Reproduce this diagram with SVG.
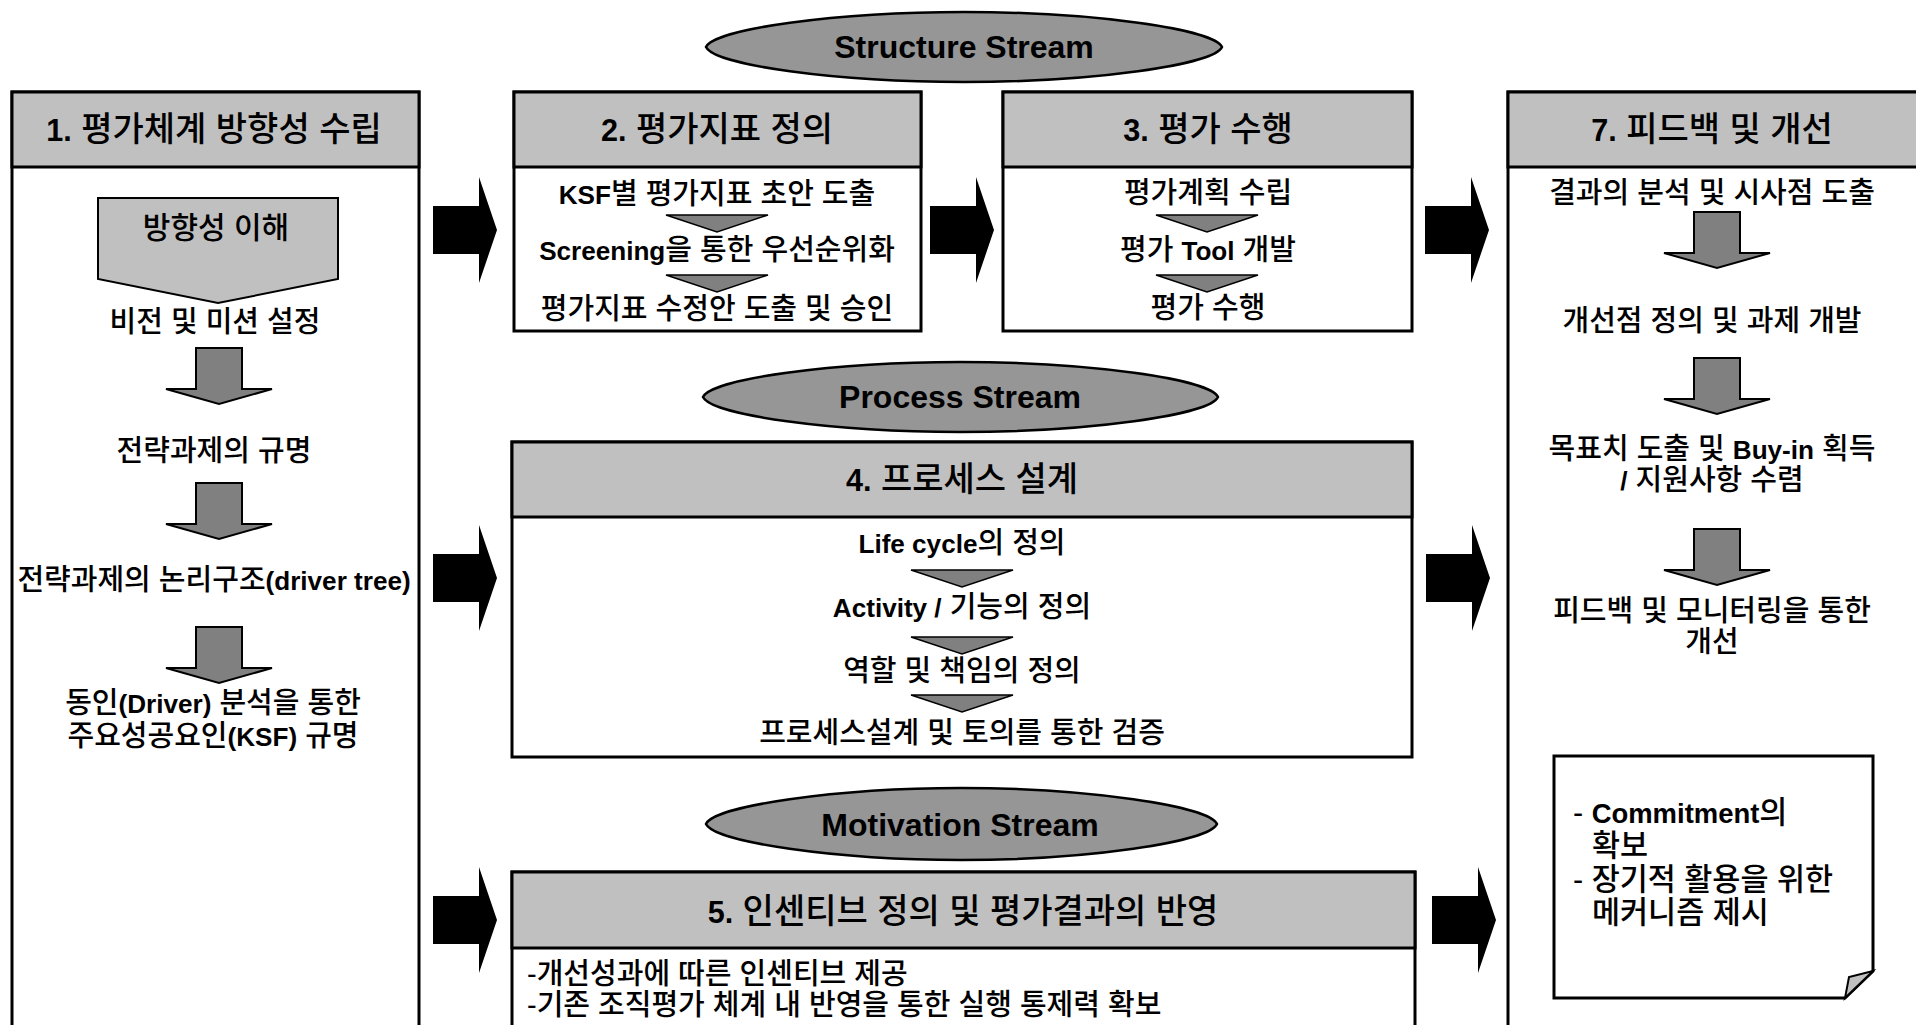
<svg xmlns="http://www.w3.org/2000/svg" width="1916" height="1025" viewBox="0 0 1916 1025">
<style>
text { font-family: 'Liberation Sans', 'Noto Sans CJK KR', sans-serif; fill: #000; font-weight: 500; }
.h { font-size: 34px; text-anchor: middle; }
.t { font-size: 29px; text-anchor: middle; }
.l { font-size: 29px; }
.n { font-size: 30.5px; }
.s { font-size: 32px; font-weight: bold; text-anchor: middle; }
.b { font-weight: bold; font-size: 0.9em; }
.box { fill: #fff; stroke: #000; stroke-width: 3; }
.hdr { fill: #c0c0c0; stroke: #000; stroke-width: 3; }
.ell { fill: #969696; stroke: #000; stroke-width: 2.5; }
.big { fill: #000; }
.dn { fill: #808080; stroke: #000; stroke-width: 2; }
.tri { fill: #808080; stroke: #000; stroke-width: 1.5; }
</style>
<defs>
<path id="bigArrow" class="big" d="M0,-24 H46 V-53 L64,0 L46,53 V24 H0 Z"/>
<path id="dnArrow" class="dn" d="M-23,0 H23 V41 H53 L0,56 L-53,41 H-23 Z"/>
<path id="tri" class="tri" d="M-51,0 H51 L0,17 Z"/>
</defs>

<g id="stream-structure">
<path class="ell" d="M706,47 C714,29 836,12 964,12 C1092,12 1214,29 1222,47 C1214,65 1092,82 964,82 C836,82 714,65 706,47 Z"/>
<text class="s" x="964" y="58">Structure Stream</text>
</g>
<g id="stream-process">
<path class="ell" d="M703,397 C711,379 833,362 960,362 C1088,362 1210,379 1218,397 C1210,415 1088,432 960,432 C833,432 711,415 703,397 Z"/>
<text class="s" x="960" y="408">Process Stream</text>
</g>
<g id="stream-motivation">
<path class="ell" d="M706,824 C714,806 836,788 961,788 C1087,788 1209,806 1217,824 C1209,842 1087,860 961,860 C836,860 714,842 706,824 Z"/>
<text class="s" x="960" y="836">Motivation Stream</text>
</g>

<g id="box1">
<rect class="box" x="12" y="92" width="407" height="960"/>
<rect class="hdr" x="12" y="92" width="407" height="75"/>
<text class="h" x="214" y="141"><tspan class="b">1.</tspan> 평가체계 방향성 수립</text>
<path class="hdr" style="stroke-width:2" d="M98,198 H338 V279 L218,303 L98,279 Z"/>
<text class="t" x="216" y="238" style="font-size:30px">방향성 이해</text>
<text class="t" x="215" y="332">비전 및 미션 설정</text>
<text class="t" x="214" y="461">전략과제의 규명</text>
<text class="t" x="214" y="590">전략과제의 논리구조<tspan class="b">(driver tree)</tspan></text>
<text class="t" x="213" y="713">동인<tspan class="b">(Driver)</tspan> 분석을 통한</text>
<text class="t" x="213" y="746">주요성공요인<tspan class="b">(KSF)</tspan> 규명</text>
</g>

<g id="box2">
<rect class="box" x="514" y="92" width="407" height="239"/>
<rect class="hdr" x="514" y="92" width="407" height="75"/>
<text class="h" x="717" y="141"><tspan class="b">2.</tspan> 평가지표 정의</text>
<text class="t" x="717" y="204"><tspan class="b">KSF</tspan>별 평가지표 초안 도출</text>
<text class="t" x="717" y="260"><tspan class="b">Screening</tspan>을 통한 우선순위화</text>
<text class="t" x="717" y="319">평가지표 수정안 도출 및 승인</text>
</g>

<g id="box3">
<rect class="box" x="1003" y="92" width="409" height="239"/>
<rect class="hdr" x="1003" y="92" width="409" height="75"/>
<text class="h" x="1208" y="141"><tspan class="b">3.</tspan> 평가 수행</text>
<text class="t" x="1208" y="203">평가계획 수립</text>
<text class="t" x="1208" y="260">평가 <tspan class="b">Tool</tspan> 개발</text>
<text class="t" x="1208" y="318">평가 수행</text>
</g>

<g id="box7">
<rect class="box" x="1508" y="92" width="430" height="960"/>
<rect class="hdr" x="1508" y="92" width="430" height="75"/>
<text class="h" x="1712" y="141"><tspan class="b">7.</tspan> 피드백 및 개선</text>
<text class="t" x="1712" y="203">결과의 분석 및 시사점 도출</text>
<text class="t" x="1712" y="331">개선점 정의 및 과제 개발</text>
<text class="t" x="1712" y="459">목표치 도출 및 <tspan class="b">Buy-in</tspan> 획득</text>
<text class="t" x="1712" y="490"><tspan class="b">/</tspan> 지원사항 수렴</text>
<text class="t" x="1712" y="621">피드백 및 모니터링을 통한</text>
<text class="t" x="1712" y="652">개선</text>
</g>

<g id="note">
<path class="box" d="M1554,756 H1873 V971 L1845,998 H1554 Z"/>
<path d="M1873,971 L1849,977 L1845,998 Z" fill="#c0c0c0" stroke="#000" stroke-width="2"/>
<text class="n" x="1573" y="823">- <tspan class="b">Commitment</tspan>의</text>
<text class="n" x="1592" y="856">확보</text>
<text class="n" x="1573" y="890">- 장기적 활용을 위한</text>
<text class="n" x="1592" y="923">메커니즘 제시</text>
</g>

<g id="box4">
<rect class="box" x="512" y="442" width="900" height="315"/>
<rect class="hdr" x="512" y="442" width="900" height="75"/>
<text class="h" x="962" y="491"><tspan class="b">4.</tspan> 프로세스 설계</text>
<text class="t" x="962" y="553"><tspan class="b">Life cycle</tspan>의 정의</text>
<text class="t" x="962" y="617"><tspan class="b">Activity /</tspan> 기능의 정의</text>
<text class="t" x="962" y="681">역할 및 책임의 정의</text>
<text class="t" x="962" y="743">프로세스설계 및 토의를 통한 검증</text>
</g>

<g id="box5">
<rect class="box" x="512" y="872" width="903" height="180"/>
<rect class="hdr" x="512" y="872" width="903" height="76"/>
<text class="h" x="963" y="923"><tspan class="b">5.</tspan> 인센티브 정의 및 평가결과의 반영</text>
<text class="l" x="527" y="984">-개선성과에 따른 인센티브 제공</text>
<text class="l" x="527" y="1015">-기존 조직평가 체계 내 반영을 통한 실행 통제력 확보</text>
</g>

<g id="connectors">
<use href="#bigArrow" x="433" y="230"/>
<use href="#bigArrow" x="930" y="230"/>
<use href="#bigArrow" x="1425" y="230"/>
<use href="#bigArrow" x="433" y="578"/>
<use href="#bigArrow" x="1426" y="578"/>
<use href="#bigArrow" x="433" y="920"/>
<use href="#bigArrow" x="1432" y="920"/>
<use href="#dnArrow" x="219" y="348"/>
<use href="#dnArrow" x="219" y="483"/>
<use href="#dnArrow" x="219" y="627"/>
<use href="#dnArrow" x="1717" y="212"/>
<use href="#dnArrow" x="1717" y="358"/>
<use href="#dnArrow" x="1717" y="529"/>
<use href="#tri" x="717" y="215"/>
<use href="#tri" x="717" y="275"/>
<use href="#tri" x="1207" y="215"/>
<use href="#tri" x="1207" y="275"/>
<use href="#tri" x="962" y="570"/>
<use href="#tri" x="962" y="637"/>
<use href="#tri" x="962" y="695"/>
</g>
</svg>
